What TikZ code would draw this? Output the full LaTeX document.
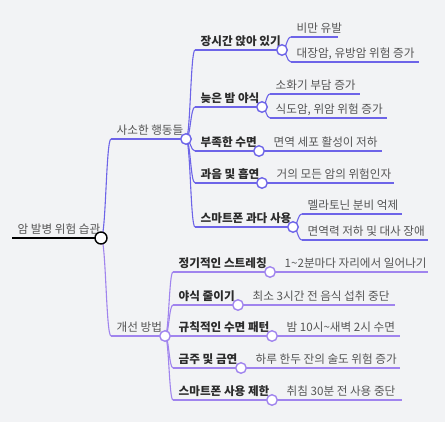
\documentclass[tikz,border=0pt]{standalone}
\usepackage{fontspec}
\setmainfont{Noto Sans CJK KR}
\usepackage{xcolor}
\usepackage{tikz}
\usetikzlibrary{calc}
\definecolor{bgcol}{HTML}{F2F3F5}
\definecolor{colA}{HTML}{6D64E8}
\definecolor{colB}{HTML}{A084EE}
\definecolor{headcol}{HTML}{2B2B2B}
\definecolor{plaincol}{HTML}{555555}
% topic: [line style][text style](name)(x start:x end:y){label}
\def\topic[#1][#2](#3)(#4:#5:#6)#7{\coordinate (#3-s) at (#4,#6);
  \coordinate (#3-e) at (#5,#6);
  \draw[#1] (#3-s) -- (#3-e);
  \node[#2, anchor=base west] (#3) at ($(#3-s)+(5.5,-4.5)$) {#7};}
% link from the end of a parent topic to the start of a child topic
\def\link[#1](#2)(#3){\coordinate (#3-m) at ($(#2-e)!.5!(#3-s)$);
  \draw[#1] (#2-e) .. controls (#3-m |- #2-e) and (#3-m |- #3-s) .. (#3-s);}
\def\knot[#1](#2){\node[knot,#1] (#2-k) at (#2-e) {};}
\def\tld{\symbol{126}}

\begin{document}
\begin{tikzpicture}[x=1pt,y=-1pt,
    head/.style={inner sep=0pt,text=headcol,font=\fontsize{11.6}{13}\selectfont\bfseries},
    plain/.style={inner sep=0pt,text=plaincol,font=\fontsize{11.6}{13}\selectfont},
    lineA/.style={colA,line width=1.3pt},
    lineB/.style={colB,line width=1.3pt},
    linkA/.style={colA,line width=1.1pt},
    linkB/.style={colB,line width=1.1pt},
    knot/.style={circle,draw,fill=white,line width=1.4pt,minimum size=10.5pt,inner sep=0pt}]
        %%% BACKGROUND %%%
        \fill[bgcol] (0,0) rectangle (445,422);
        \useasboundingbox (0,0) rectangle (445,422);

        %%% ROOT %%%
        \topic[black,line width=2pt][plain](root)(12:101:238){암 발병 위험 습관}

        %%% SMALL HABITS %%%
        \topic[lineA][plain](habit)(111:186:139){사소한 행동들}
        \topic[lineA][head](sit)(195:282:50){장시간 앉아 있기}
        \topic[lineA][plain](sit1)(291:338:37){비만 유발}
        \topic[lineA][plain](sit2)(291:419:62){대장암, 유방암 위험 증가}
        \topic[lineA][head](snack)(195:262:107){늦은 밤 야식}
        \topic[lineA][plain](snack1)(270:360:94){소화기 부담 증가}
        \topic[lineA][plain](snack2)(270:387:118){식도암, 위암 위험 증가}
        \topic[lineA][head](sleep)(195:259:151){부족한 수면}
        \topic[lineA][plain](sleep1)(268:382:151){면역 세포 활성이 저하}
        \topic[lineA][head](drink)(195:262:183){과음 및 흡연}
        \topic[lineA][plain](drink1)(271:394:183){거의 모든 암의 위험인자}
        \topic[lineA][head](phone)(195:293:227){스마트폰 과다 사용}
        \topic[lineA][plain](phone1)(302:402:214){멜라토닌 분비 억제}
        \topic[lineA][plain](phone2)(302:428:240){면역력 저하 및 대사 장애}

        %%% REMEDIES %%%
        \topic[lineB][plain](fix)(111:165:336){개선 방법}
        \topic[lineB][head](stretch)(173:270:272){정기적인 스트레칭}
        \topic[lineB][plain](stretch1)(279:428:272){1\tld2분마다 자리에서 일어나기}
        \topic[lineB][head](less)(173:238:305){야식 줄이기}
        \topic[lineB][plain](less1)(247:395:305){최소 3시간 전 음식 섭취 중단}
        \topic[lineB][head](rule)(173:272:336){규칙적인 수면 패턴}
        \topic[lineB][plain](rule1)(281:400:336){밤 10시\tld 새벽 2시 수면}
        \topic[lineB][head](quit)(173:241:368){금주 및 금연}
        \topic[lineB][plain](quit1)(250:400:368){하루 한두 잔의 술도 위험 증가}
        \topic[lineB][head](limit)(173:272:400){스마트폰 사용 제한}
        \topic[lineB][plain](limit1)(281:402:400){취침 30분 전 사용 중단}

        %%% LINKS %%%
        \link[linkA](root)(habit)
        \link[linkB](root)(fix)
        \foreach \c in {sit,snack,sleep,drink,phone} {\link[linkA](habit)(\c)}
        \link[linkA](sit)(sit1)
        \link[linkA](sit)(sit2)
        \link[linkA](snack)(snack1)
        \link[linkA](snack)(snack2)
        \link[linkA](sleep)(sleep1)
        \link[linkA](drink)(drink1)
        \link[linkA](phone)(phone1)
        \link[linkA](phone)(phone2)
        \foreach \c in {stretch,less,rule,quit,limit} {\link[linkB](fix)(\c) \link[linkB](\c)(\c1)}

        %%% KNOTS %%%
        \knot[draw=black,minimum size=12pt](root)
        \foreach \c in {habit,sit,snack,sleep,drink,phone} {\knot[draw=colA](\c)}
        \foreach \c in {fix,stretch,less,rule,quit,limit} {\knot[draw=colB](\c)}
    \end{tikzpicture}
\end{document}
